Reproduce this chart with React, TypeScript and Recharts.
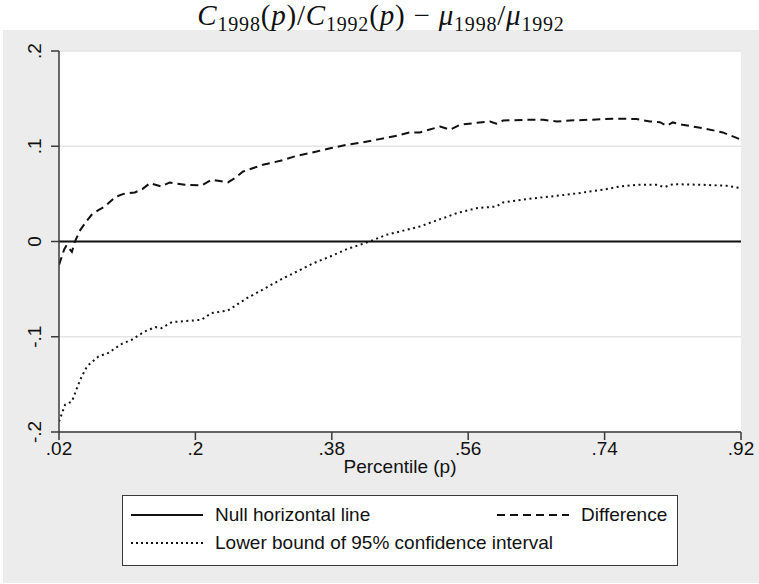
import { LineChart, Line, XAxis, YAxis, CartesianGrid } from "recharts";

// percentile grid + values
const diffP = [
  0.02, 0.027, 0.03, 0.033, 0.037, 0.041, 0.048, 0.056, 0.063, 0.072, 0.081, 0.094, 0.105, 0.12, 0.13,
  0.14, 0.155, 0.166, 0.186, 0.208, 0.221, 0.243, 0.252, 0.263, 0.289, 0.312, 0.334, 0.36, 0.378, 0.4,
  0.421, 0.443, 0.466, 0.483, 0.496, 0.523, 0.536, 0.549, 0.575, 0.589, 0.597, 0.606, 0.637, 0.659,
  0.677, 0.694, 0.72, 0.738, 0.764, 0.782, 0.8, 0.813, 0.822, 0.83, 0.843, 0.87, 0.896, 0.92,
];
const diffV = [
  -0.0245, -0.008, -0.004, -0.007, -0.011, 0, 0.012, 0.021, 0.028, 0.033, 0.037, 0.0466, 0.05, 0.0515, 0.055,
  0.0613, 0.0578, 0.062, 0.0595, 0.0588, 0.0648, 0.062, 0.0666, 0.0735, 0.0805, 0.0847, 0.09, 0.0945, 0.098, 0.1015,
  0.104, 0.1075, 0.111, 0.1145, 0.1145, 0.1207, 0.1173, 0.1225, 0.125, 0.126, 0.1236, 0.127, 0.1278, 0.1278,
  0.126, 0.127, 0.1278, 0.1285, 0.129, 0.1285, 0.126, 0.1253, 0.1215, 0.125, 0.1225, 0.119, 0.1145, 0.107,
];

const lowP = [
  0.02, 0.028, 0.037, 0.048, 0.057, 0.072, 0.085, 0.103, 0.116, 0.133, 0.147, 0.155, 0.169, 0.208, 0.221,
  0.243, 0.268, 0.29, 0.312, 0.334, 0.356, 0.378, 0.4, 0.43, 0.452, 0.47, 0.496, 0.523, 0.531, 0.545,
  0.571, 0.597, 0.606, 0.637, 0.668, 0.707, 0.72, 0.738, 0.76, 0.782, 0.808, 0.819, 0.83, 0.87, 0.901, 0.92,
];
const lowV = [
  -0.189, -0.1714, -0.168, -0.145, -0.131, -0.1207, -0.117, -0.1074, -0.1032, -0.0945, -0.0899, -0.091, -0.0846, -0.0822, -0.0752,
  -0.0724, -0.0595, -0.05, -0.0402, -0.0315, -0.0227, -0.0157, -0.008, 0, 0.007, 0.0105, 0.0157, 0.0235, 0.0256, 0.0298,
  0.035, 0.0367, 0.041, 0.0445, 0.0472, 0.0508, 0.0525, 0.0543, 0.0578, 0.0595, 0.0595, 0.0571, 0.0602, 0.0595, 0.0585, 0.056,
];

const nullP = [0.02, 0.92];
const nullV = [0, 0];

const xTicks = [0.02, 0.2, 0.38, 0.56, 0.74, 0.92];
const yTicks = [-0.2, -0.1, 0, 0.1, 0.2];

const zip = (ps: number[], vs: number[]) => ps.map((p, i) => ({ p, v: vs[i] }));
const diffData = zip(diffP, diffV);
const lowData = zip(lowP, lowV);
const nullData = zip(nullP, nullV);

const fmt = (v: number) => String(v).replace("0.", ".");
const SANS = "'Liberation Sans', Arial, sans-serif";
const INK = "#111";
const AXIS = "#3a3a3a";

function YTick({ y, payload }: any) {
  return (
    <text
      x={34}
      y={y}
      transform={`rotate(-90 34 ${y})`}
      textAnchor="middle"
      dominantBaseline="central"
      fontSize={19}
      fontFamily={SANS}
      fill={INK}
    >
      {fmt(payload.value)}
    </text>
  );
}

function Sample({ dash }: { dash?: string }) {
  return (
    <svg width={72} height={6} style={{ display: "block" }}>
      <line x1={0} y1={3} x2={72} y2={3} stroke={INK} strokeWidth={2} strokeDasharray={dash} />
    </svg>
  );
}

const sub = { fontSize: 20, verticalAlign: "-6px", lineHeight: 0 } as const;

export default function App() {
  return (
    <div style={{ position: "absolute", left: 0, top: 0, width: 759, height: 584, background: "#fff", overflow: "hidden" }}>
      <div style={{ position: "absolute", left: 3, top: 30, width: 756, height: 553, background: "#ececec" }} />
      <div
        style={{
          position: "absolute",
          left: 0,
          top: 0,
          width: 762,
          textAlign: "center",
          fontFamily: "'Liberation Serif', 'DejaVu Serif', serif",
          fontSize: 29,
          letterSpacing: 0.8,
          color: INK,
          lineHeight: "30px",
          whiteSpace: "nowrap",
        }}
      >
        <i>C</i>
        <span style={sub}>1998</span>(<i>p</i>)/<i>C</i>
        <span style={sub}>1992</span>(<i>p</i>) − <i>μ</i>
        <span style={sub}>1998</span>/<i>μ</i>
        <span style={sub}>1992</span>
      </div>

      <div style={{ position: "absolute", left: 0, top: 0 }}>
        <LineChart width={759} height={584} margin={{ top: 51, right: 18, bottom: 122, left: 0 }}>
          <CartesianGrid vertical={false} fill="#fff" stroke="#e4e4e4" strokeWidth={1.5} />
          <XAxis
            type="number"
            dataKey="p"
            domain={[0.02, 0.92]}
            ticks={xTicks}
            tickFormatter={fmt}
            allowDataOverflow
            height={30}
            tickSize={8}
            stroke={AXIS}
            strokeWidth={1.5}
            tick={{ fill: INK, fontSize: 19, fontFamily: SANS }}
          />
          <YAxis
            type="number"
            dataKey="v"
            domain={[-0.2, 0.2]}
            ticks={yTicks}
            width={59}
            tickSize={8}
            stroke={AXIS}
            strokeWidth={1.5}
            tick={<YTick />}
          />
          <Line data={nullData} dataKey="v" stroke={INK} strokeWidth={2} dot={false} isAnimationActive={false} />
          <Line
            data={diffData}
            dataKey="v"
            type="linear"
            stroke={INK}
            strokeWidth={2}
            strokeDasharray="8 5"
            dot={false}
            isAnimationActive={false}
          />
          <Line
            data={lowData}
            dataKey="v"
            type="linear"
            stroke={INK}
            strokeWidth={2}
            strokeDasharray="2 3.5"
            dot={false}
            isAnimationActive={false}
          />
        </LineChart>
      </div>

      <div
        style={{
          position: "absolute",
          left: 400 - 100,
          width: 200,
          top: 456,
          textAlign: "center",
          fontFamily: SANS,
          fontSize: 19,
          color: INK,
          lineHeight: "22px",
        }}
      >
        Percentile (p)
      </div>

      <div
        style={{
          position: "absolute",
          left: 122,
          top: 495,
          width: 554,
          height: 69,
          border: `1.5px solid ${AXIS}`,
          background: "#fff",
          fontFamily: SANS,
          fontSize: 19,
          color: INK,
        }}
      >
        <div style={{ position: "absolute", left: 8, top: 16 }}>
          <Sample />
        </div>
        <div style={{ position: "absolute", left: 92, top: 8, lineHeight: "22px" }}>Null horizontal line</div>
        <div style={{ position: "absolute", left: 374, top: 16 }}>
          <Sample dash="8 5" />
        </div>
        <div style={{ position: "absolute", left: 458, top: 8, lineHeight: "22px" }}>Difference</div>
        <div style={{ position: "absolute", left: 8, top: 44 }}>
          <Sample dash="2 3" />
        </div>
        <div style={{ position: "absolute", left: 92, top: 36, lineHeight: "22px" }}>
          Lower bound of 95% confidence interval
        </div>
      </div>
    </div>
  );
}
